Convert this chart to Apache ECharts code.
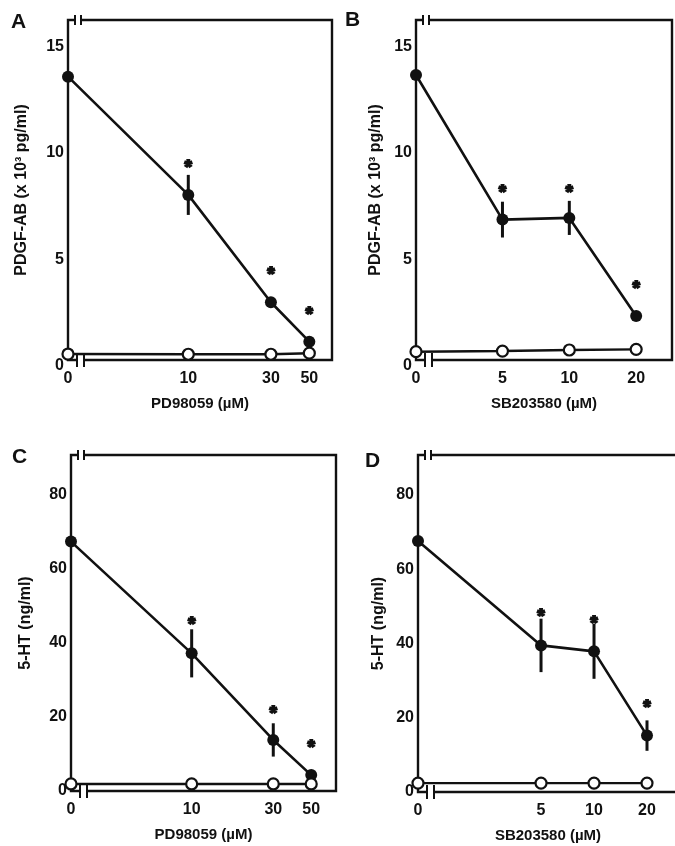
<!DOCTYPE html>
<html><head><meta charset="utf-8">
<script src="https://cdn.jsdelivr.net/npm/echarts@6/dist/echarts.min.js"></script>
<style>html,body{margin:0;padding:0;background:#fff}#c{width:675px;height:846px}</style>
</head><body><div id="c"></div>
<script>
// ---- data ----
const concPD = [0, 10, 30, 50];          // PD98059 (µM)
const concSB = [0, 5, 10, 20];           // SB203580 (µM)
const xTicksPD = [0, 10, 30, 50];
const xTicksSB = [0, 5, 10, 20];
const yTicksPDGF = [0, 5, 10, 15];
const yTicksHT = [0, 20, 40, 60, 80];

const pdgfA = [13.58, 8.03, 2.99, 1.14];
const pdgfAErr = [0, 0.94, 0.2, 0.12];
const pdgfAStar = [null, 9.48, 4.47, 2.6];
const pdgfACtrl = [0.56, 0.55, 0.55, 0.6];

const pdgfB = [13.66, 6.87, 6.95, 2.35];
const pdgfBErr = [0, 0.84, 0.8, 0.1];
const pdgfBStar = [null, 8.3, 8.3, 3.8];
const pdgfBCtrl = [0.67, 0.7, 0.75, 0.78];

const htC = [67.4, 37.2, 13.8, 4.3];
const htCErr = [0, 6.5, 4.5, 0.3];
const htCStar = [null, 45.8, 21.9, 12.6];
const htCCtrl = [1.9, 1.9, 1.9, 1.9];

const htD = [67.6, 39.5, 37.9, 15.2];
const htDErr = [0, 7.2, 7.4, 4.1];
const htDStar = [null, 48.3, 46.2, 23.7];
const htDCtrl = [2.4, 2.4, 2.4, 2.4];

// ---- layout / style ----
const INK = '#111';
const FONT = '"Liberation Sans", Arial, sans-serif';
const panels = [
  {letter:'A', lx:21, ly:24, grid:{left:68, top:20, width:264, height:340}, xMin:2.02, xMax:67.6, yMin:0.28, yMax:16.24,
   conc:concPD, xTicks:xTicksPD, yTicks:yTicksPDGF, y:pdgfA, err:pdgfAErr, star:pdgfAStar, ctrl:pdgfACtrl,
   xName:'PD98059 (µM)', yName:'PDGF-AB (x 10³ pg/ml)', yGap:38, xGap:36},
  {letter:'B', lx:355, ly:22, grid:{left:416, top:20, width:256, height:340}, xMin:2.04, xMax:29.0, yMin:0.28, yMax:16.24,
   conc:concSB, xTicks:xTicksSB, yTicks:yTicksPDGF, y:pdgfB, err:pdgfBErr, star:pdgfBStar, ctrl:pdgfBCtrl,
   xName:'SB203580 (µM)', yName:'PDGF-AB (x 10³ pg/ml)', yGap:32, xGap:36},
  {letter:'C', lx:22, ly:459, grid:{left:71, top:455, width:265, height:336}, xMin:1.97, xMax:69.8, yMin:0, yMax:90.8,
   conc:concPD, xTicks:xTicksPD, yTicks:yTicksHT, y:htC, err:htCErr, star:htCStar, ctrl:htCCtrl,
   xName:'PD98059 (µM)', yName:'5-HT (ng/ml)', yGap:37, xGap:36},
  {letter:'D', lx:375, ly:463, grid:{left:418, top:455, width:260, height:337}, xMin:1.0, xMax:30.0, yMin:0, yMax:90.8,
   conc:concSB, xTicks:xTicksSB, yTicks:yTicksHT, y:htD, err:htDErr, star:htDStar, ctrl:htDCtrl,
   xName:'SB203580 (µM)', yName:'5-HT (ng/ml)', yGap:31, xGap:36}
];

const grids = [], xAxes = [], yAxes = [], series = [], graphics = [];
panels.forEach((p, i) => {
  const X = c => (c === 0 ? p.xMin : c);
  grids.push(Object.assign({show:true, borderColor:INK, borderWidth:2.4, backgroundColor:'transparent', containLabel:false, outerBoundsMode:'none'}, p.grid));
  xAxes.push({
    type:'log', logBase:10, gridIndex:i, min:p.xMin, max:p.xMax,
    axisLine:{show:false}, axisTick:{show:false}, splitLine:{show:false}, minorTick:{show:false}, minorSplitLine:{show:false},
    axisLabel:{customValues:p.xTicks.map(X), margin:11, color:INK, fontFamily:FONT, fontWeight:'bold', fontSize:16,
      formatter:v => (Math.abs(v - p.xMin) < 1e-6 ? '0' : String(Math.round(v)))},
    name:p.xName, nameLocation:'middle', nameGap:p.xGap,
    nameTextStyle:{color:INK, fontFamily:FONT, fontWeight:'bold', fontSize:15}
  });
  yAxes.push({
    type:'value', gridIndex:i, min:p.yMin, max:p.yMax,
    axisLine:{show:false}, axisTick:{show:false}, splitLine:{show:false},
    axisLabel:{customValues:p.yTicks.map(v => (v === 0 ? p.yMin : v)), margin:4, color:INK, fontFamily:FONT, fontWeight:'bold', fontSize:16,
      formatter:v => (v < 1 ? (p.yMin > 0 ? '{z|0}' : '0') : String(Math.round(v))),
      rich:{z:{fontFamily:FONT, fontWeight:'bold', fontSize:16, color:INK, padding:[12,0,0,0]}}},
    name:p.yName, nameLocation:'middle', nameGap:p.yGap, nameRotate:90,
    nameTextStyle:{color:INK, fontFamily:FONT, fontWeight:'bold', fontSize:16}
  });
  // error bars and asterisks
  series.push({
    type:'custom', xAxisIndex:i, yAxisIndex:i, clip:false, z:3,
    data:p.conc.map((c, j) => [X(c), p.y[j], p.err[j], p.star[j] == null ? NaN : p.star[j]]),
    encode:{x:0, y:1},
    renderItem:(params, api) => {
      const x = api.value(0), y = api.value(1), e = api.value(2), s = api.value(3);
      const children = [];
      if (e > 0) {
        const a = api.coord([x, y - e]), b = api.coord([x, y + e]);
        children.push({type:'line', shape:{x1:a[0], y1:a[1], x2:b[0], y2:b[1]}, style:{stroke:INK, lineWidth:3}});
      }
      if (!isNaN(s)) {
        const q = api.coord([x, s]);
        children.push({type:'text', x:q[0], y:q[1] + 4, style:{text:'*', fill:INK, stroke:INK, lineWidth:2, font:'bold 18px ' + FONT, align:'center', verticalAlign:'middle'}});
      }
      return {type:'group', children};
    }
  });
  series.push({
    type:'line', xAxisIndex:i, yAxisIndex:i, clip:false, z:4,
    data:p.conc.map((c, j) => [X(c), p.y[j]]),
    symbol:'circle', symbolSize:12, itemStyle:{color:INK}, lineStyle:{color:INK, width:2.6}
  });
  series.push({
    type:'line', xAxisIndex:i, yAxisIndex:i, clip:false, z:5,
    data:p.conc.map((c, j) => [X(c), p.ctrl[j]]),
    symbol:'circle', symbolSize:11, showAllSymbol:true,
    itemStyle:{color:'#fff', borderColor:INK, borderWidth:2.2}, lineStyle:{color:INK, width:2.4}
  });
  graphics.push({type:'text', left:p.lx - 10, top:p.ly - 12, style:{text:p.letter, font:'bold 21px ' + FONT, fill:INK}, z:100});
  // axis-break marks
  const L = p.grid.left, T = p.grid.top, B = p.grid.top + p.grid.height;
  graphics.push({type:'rect', shape:{x:L + 8, y:T - 3, width:4, height:6}, style:{fill:'#fff'}, z:100});
  graphics.push({type:'line', shape:{x1:L + 7, y1:T - 5, x2:L + 7, y2:T + 5}, style:{stroke:INK, lineWidth:2}, z:101});
  graphics.push({type:'line', shape:{x1:L + 13, y1:T - 5, x2:L + 13, y2:T + 5}, style:{stroke:INK, lineWidth:2}, z:101});
  graphics.push({type:'rect', shape:{x:L + 10, y:B - 3, width:5, height:6}, style:{fill:'#fff'}, z:100});
  graphics.push({type:'line', shape:{x1:L + 9, y1:B - 7, x2:L + 9, y2:B + 7}, style:{stroke:INK, lineWidth:2}, z:101});
  graphics.push({type:'line', shape:{x1:L + 16, y1:B - 7, x2:L + 16, y2:B + 7}, style:{stroke:INK, lineWidth:2}, z:101});
});

const chart = echarts.init(document.getElementById('c'), null, {renderer:'canvas'});
chart.setOption({
  animation:false, backgroundColor:'#fff',
  grid:grids, xAxis:xAxes, yAxis:yAxes, series, graphic:graphics
});
</script></body></html>
